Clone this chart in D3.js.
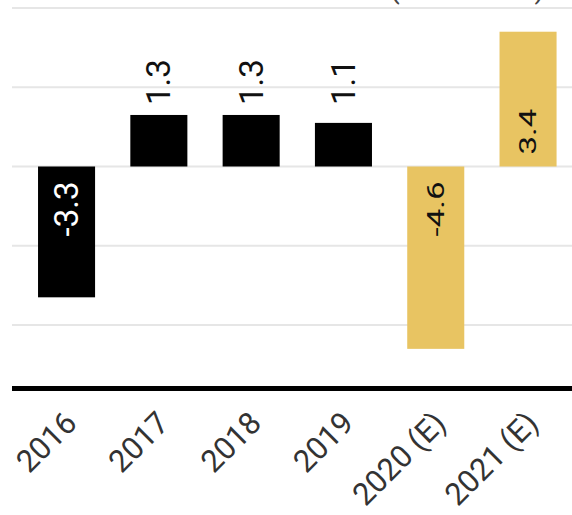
<!DOCTYPE html>
<html>
<head>
<meta charset="utf-8">
<script src="https://cdn.jsdelivr.net/npm/d3@7"></script>
<style>
  html, body { margin: 0; padding: 0; background: #fff; }
  svg { display: block; }
  text { font-family: Roboto, "Noto Sans", Arial, sans-serif; }
</style>
</head>
<body>
<div id="chart"></div>
<script>
// ---- data ----
const categories = ["2016", "2017", "2018", "2019", "2020 (E)", "2021 (E)"];
const values = [-3.3, 1.3, 1.3, 1.1, -4.6, 3.4];
const isEstimate = [false, false, false, false, true, true];
const yTicks = [-4, -2, 0, 2, 4];
const titleText = "Real GDP Growth Rate (In Percent)";

// ---- layout ----
const W = 572, H = 515;
const svg = d3.select("#chart").append("svg").attr("width", W).attr("height", H);

const x = d3.scaleBand().domain(categories).range([20.4, 574.2])
  .paddingInner(0.382).paddingOuter(0.191);
const y = d3.scaleLinear().domain([-5.6, 4.2]).range([388.5, 0]);

const colActual = "#000000", colEst = "#E8C462";
const rows = categories.map((c, i) => ({ c, v: values[i], est: isEstimate[i] }));

// title, cut off by the top edge as in the reference (only its lowest pixels show)
svg.append("text").attr("x", 545).attr("y", -2).attr("text-anchor", "end")
  .attr("font-size", 30).attr("fill", "#444").text(titleText);

// gridlines
svg.append("g").selectAll("line").data(yTicks).join("line")
  .attr("x1", 12).attr("x2", W)
  .attr("y1", d => y(d)).attr("y2", d => y(d))
  .attr("stroke", "#e6e6e6").attr("stroke-width", 2);

// bars
svg.append("g").selectAll("rect").data(rows).join("rect")
  .attr("x", d => x(d.c))
  .attr("width", x.bandwidth())
  .attr("y", d => Math.min(y(d.v), y(0)))
  .attr("height", d => Math.abs(y(d.v) - y(0)))
  .attr("fill", d => d.est ? colEst : colActual);

// value labels
svg.append("g").selectAll("text").data(rows).join("text")
  .attr("font-size", 33)
  .attr("dominant-baseline", "central")
  .attr("text-anchor", d => d.v < 0 ? "end" : "start")
  .attr("fill", d => (d.v < 0 && !d.est) ? "#ffffff" : "#111111")
  .attr("transform", d => {
    const cx = x(d.c) + x.bandwidth() / 2;
    let yy;
    if (d.v < 0) yy = y(0) + 15;
    else if (Math.abs(d.v) < 2) yy = y(1.55);
    else yy = y(0) - 12;
    const sc = d.est ? " scale(1,0.72)" : "";
    return `translate(${cx},${yy}) rotate(-90)${sc}`;
  })
  .text(d => d.v.toFixed(1));

// bottom axis line
svg.append("line").attr("x1", 12).attr("x2", W)
  .attr("y1", y(-5.6)).attr("y2", y(-5.6))
  .attr("stroke", "#000").attr("stroke-width", 5);

// category labels
svg.append("g").selectAll("text").data(categories).join("text")
  .attr("font-size", 31)
  .attr("fill", "#333")
  .attr("text-anchor", "end")
  .attr("transform", d => `translate(${x(d) + x.bandwidth() / 2 + 12},425) rotate(-45)`)
  .text(d => d);
</script>
</body>
</html>
